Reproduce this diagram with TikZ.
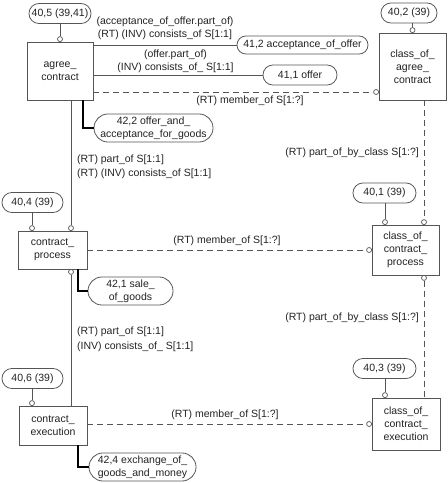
\documentclass[tikz,border=0pt]{standalone}
\usepackage{fontspec}
\setmainfont{Liberation Sans}
\definecolor{lc}{RGB}{85,85,85}
\definecolor{tc}{RGB}{35,35,35}
\begin{document}
\begin{tikzpicture}[x=1pt,y=-1pt,
  font=\fontsize{10.5}{13}\selectfont,
  box/.style={rectangle, draw=lc, line width=0.8pt, fill=white, inner sep=0pt, align=center, text=tc},
  pill/.style={rectangle, rounded corners=9.9pt, minimum height=20pt, draw=lc, line width=0.8pt, fill=white, inner sep=0pt, align=center, text=tc},
  pilltwo/.style={rectangle, rounded corners=13.9pt, minimum height=28pt, draw=lc, line width=0.8pt, fill=white, inner sep=0pt, align=center, text=tc},
  lbl/.style={inner sep=0pt, text=tc, align=center},
  lbll/.style={inner sep=0pt, text=tc, align=left},
  oc/.style={circle, draw=lc, fill=white, line width=0.7pt, inner sep=0pt, minimum size=5pt},
  ln/.style={draw=lc, line width=0.8pt},
  dl/.style={draw=lc, line width=0.8pt, dash pattern=on 6pt off 4pt},
  thk/.style={draw=black, line width=2pt}]
\fill[white] (0,0) rectangle (448,483);
\useasboundingbox (0,0) rectangle (448,483);

% boxes
\node[box, minimum width=66pt, minimum height=58pt] (ac) at (60,71) {agree\_\\contract};
\node[box, minimum width=67pt, minimum height=67pt] (cac) at (412.5,66.5) {class\_of\_\\agree\_\\contract};
\node[box, minimum width=69pt, minimum height=38pt] (cp) at (52.5,250) {contract\_\\process};
\node[box, minimum width=67pt, minimum height=50pt] (ccp) at (405.5,250) {class\_of\_\\contract\_\\process};
\node[box, minimum width=68pt, minimum height=39pt] (ce) at (53,425.5) {contract\_\\execution};
\node[box, minimum width=68pt, minimum height=52pt] (cce) at (406,424) {class\_of\_\\contract\_\\execution};

% pills
\node[pill, minimum width=62pt] (p405) at (60,13.5) {40,5 (39,41)};
\node[pill, minimum width=56pt] (p402) at (409,13) {40,2 (39)};
\node[pill, minimum width=131pt, minimum height=18pt, rounded corners=8.9pt] (p412) at (302.5,45) {41,2 acceptance\_of\_offer};
\node[pill, minimum width=74pt] (p411) at (300,75) {41,1 offer};
\node[pilltwo, minimum width=119pt] (p422) at (153.5,128) {42,2 offer\_and\_\\acceptance\_for\_goods};
\node[pill, minimum width=61pt] (p404) at (32.5,202.5) {40,4 (39)};
\node[pill, minimum width=63pt] (p401) at (384.5,193) {40,1 (39)};
\node[pilltwo, minimum width=85pt] (p421) at (130.5,291) {42,1 sale\_\\of\_goods};
\node[pill, minimum width=61pt] (p406) at (32.5,378.5) {40,6 (39)};
\node[pill, minimum width=63pt] (p403) at (384.5,368.5) {40,3 (39)};
\node[pilltwo, minimum width=107pt] (p424) at (142.5,467) {42,4 exchange\_of\_\\goods\_and\_money};

% circles
\node[oc] (o405) at ([yshift=2.5pt]ac.north) {};
\node[oc] (o402) at ([yshift=2.5pt]cac.north) {};
\node[oc] (ocacl) at ([xshift=-2.5pt,yshift=-25.5pt]cac.west) {};
\node[oc] (ocpt1) at ([xshift=-20.5pt,yshift=2.5pt]cp.north) {};
\node[oc] (ocpt2) at ([xshift=18.5pt,yshift=2.5pt]cp.north) {};
\node[oc] (ocpb) at ([xshift=18.5pt,yshift=-2.5pt]cp.south) {};
\node[oc] (occpl) at ([xshift=-2.5pt]ccp.west) {};
\node[oc] (ocet) at ([xshift=-21pt,yshift=2.5pt]ce.north) {};
\node[oc] (occel) at ([xshift=-2.5pt]cce.west) {};
\node[oc] (occpt1) at ([xshift=-20.5pt,yshift=2.5pt]ccp.north) {};
\node[oc] (occpt2) at ([xshift=18.5pt,yshift=2.5pt]ccp.north) {};
\node[oc] (occpb) at ([xshift=18.5pt,yshift=-2.5pt]ccp.south) {};
\node[oc] (occet) at ([xshift=-21pt,yshift=2.5pt]cce.north) {};

% connectors
\draw[ln] (p405.south -| o405) -- (o405.north);
\draw[ln] (p402.south -| o402) -- (o402.north);
\draw[ln] (ac.east |- p412) -- (p412.west);
\draw[ln] (ac.east |- p411) -- (p411.west);
\draw[dl] (ac.east |- ocacl) -- (ocacl.west);
\draw[thk] ([xshift=23pt]ac.south) |- (p422.west);
\draw[ln] (ac.south -| ocpt2) -- (ocpt2.north);
\draw[ln] (p404.south -| ocpt1) -- (ocpt1.north);
\draw[dl] (cp.east |- occpl) -- (occpl.west);
\draw[thk] ([xshift=25.5pt]cp.south) |- (p421.west);
\draw[ln] (ocpb.south) -- (ce.north -| ocpb);
\draw[ln] (p406.south -| ocet) -- (ocet.north);
\draw[dl] (ce.east |- occel) -- (occel.west);
\draw[thk] ([xshift=25pt]ce.south) |- (p424.west);
\draw[ln] (p401.south -| occpt1) -- (occpt1.north);
\draw[dl] (cac.south -| occpt2) -- (occpt2.north);
\draw[dl] (occpb.south) -- (cce.north -| occpb);
\draw[ln] (p403.south -| occet) -- (occet.north);

% labels
\node[lbl] (l1) at (165,28.5) {(acceptance\_of\_offer.part\_of)\\(RT) (INV) consists\_of S[1:1]};
\node[lbl] (l2) at (175.5,61.5) {(offer.part\_of)\\(INV) consists\_of\_ S[1:1]};
\node[lbl] (l3) at (250,101) {(RT) member\_of S[1:?]};
\node[lbl, anchor=east] (l4) at (419,153) {(RT) part\_of\_by\_class S[1:?]};
\node[lbll, anchor=west] (l5) at (77,167) {(RT) part\_of S[1:1]\\[1pt](RT) (INV) consists\_of S[1:1]};
\node[lbl] (l6) at (227,241) {(RT) member\_of S[1:?]};
\node[lbl, anchor=east] (l7) at (419,318) {(RT) part\_of\_by\_class S[1:?]};
\node[lbll, anchor=west] (l8) at (77,339.5) {(RT) part\_of S[1:1]\\[2pt](INV) consists\_of\_ S[1:1]};
\node[lbl] (l9) at (225,415) {(RT) member\_of S[1:?]};
\end{tikzpicture}
\end{document}
